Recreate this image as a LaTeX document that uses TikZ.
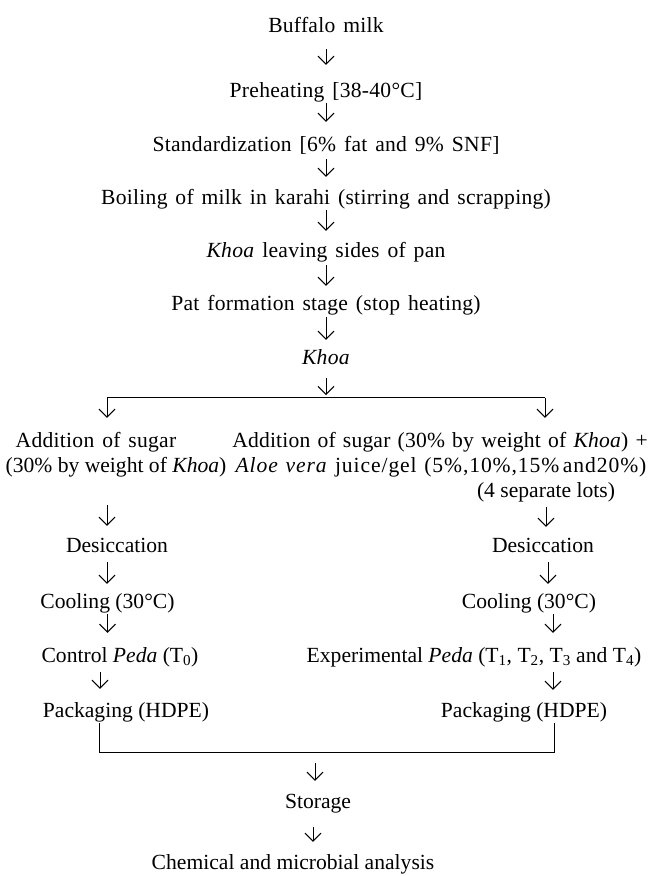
\documentclass[tikz,border=0pt]{standalone}
\usepackage{fontspec}
\setmainfont{Liberation Serif}
\newfontfamily\spacedfont{Liberation Serif}[LetterSpace=1.2,WordSpace=1.4]
\newfontfamily\widefont{Liberation Serif}[LetterSpace=0.8,WordSpace=1.3]
\newfontfamily\widerfont{Liberation Serif}[LetterSpace=4.2,WordSpace=1.2]
\usetikzlibrary{arrows.meta}
\begin{document}
\begin{tikzpicture}[x=1pt,y=-1pt,
  lbl/.style={inner sep=0pt, text height=15pt, text depth=6pt, anchor=base,
    font=\fontsize{21.6}{26}\selectfont},
  topl/.style={lbl, font=\spacedfont\fontsize{21.6}{26}\selectfont},
  arr/.style={-{Straight Barb[length=8pt,width=16pt,line width=1pt]}, line width=1pt,
    shorten <=1pt, shorten >=11pt},
  ln/.style={line width=0.9pt}]
\fill[white] (0,0) rectangle (652,876);
\useasboundingbox (0,0) rectangle (652,876);

% main column
\node[topl] (n1) at (326,32) {Buffalo milk};
\node[topl] (n2) at (326,97) {Preheating [38-40°C]};
\node[topl] (n3) at (326,151) {Standardization [6\% fat and 9\% SNF]};
\node[topl] (n4) at (326,204) {Boiling of milk in karahi (stirring and scrapping)};
\node[topl] (n5) at (326,257) {\textit{Khoa} leaving sides of pan};
\node[topl] (n6) at (326,310) {Pat formation stage (stop heating)};
\node[topl] (n7) at (326,364) {\textit{Khoa}};

\draw[arr, shorten <=11pt, shorten >=17pt] (n1.south) -- (n2.north);
\draw[arr, shorten <=0pt, shorten >=14pt] (n2.south) -- (n3.north);
\draw[arr, shorten <=2pt, shorten >=12pt] (n3.south) -- (n4.north);
\draw[arr, shorten <=0pt, shorten >=11pt] (n4.south) -- (n5.north);
\draw[arr, shorten <=2pt, shorten >=9pt] (n5.south) -- (n6.north);
\draw[arr, shorten <=1pt, shorten >=9pt] (n6.south) -- (n7.north);

% branch
\coordinate (bc) at (326,397);
\coordinate (bl) at (107,397);
\coordinate (brt) at (545,397);
\draw[ln] (bl) -- (brt);
\draw[arr, shorten <=8pt, shorten >=2pt] (n7.south) -- (bc);

% branch texts
\node[topl] (l1) at (96,447) {Addition of sugar};
\node[lbl] (l2) at (116,472) {(30\% by weight of \textit{Khoa})};
\node[lbl, font=\widefont\fontsize{21.6}{26}\selectfont] (r1) at (440,447) {Addition of sugar (30\% by weight of \textit{Khoa}) +};
\node[lbl, font=\widerfont\fontsize{21.6}{26}\selectfont] (r2) at (441,472) {\textit{Aloe vera} juice/gel (5\%,10\%,15\%\,and20\%)};
\node[lbl] (r3) at (546,497) {(4 separate lots)};
\draw[arr, shorten <=0.5pt, shorten >=14pt] (bl) -- (bl |- l1.north);
\draw[arr, shorten <=0.5pt, shorten >=14pt] (brt) -- (brt |- r1.north);

% desiccation
\node[lbl] (ld) at (117,552) {Desiccation};
\node[lbl] (rd) at (543,552) {Desiccation};
\draw[arr, shorten <=27pt, shorten >=11pt] (l2.south -| bl) -- (bl |- ld.north);
\draw[arr, shorten <=4pt, shorten >=10pt] (r3.south) -- (r3.south |- rd.north);

% cooling
\node[lbl] (lc) at (107.5,608) {Cooling (30°C)};
\node[lbl] (rc) at (529,608) {Cooling (30°C)};
\draw[arr, shorten <=4pt, shorten >=9pt] (ld.south -| bl) -- (bl |- lc.north);
\draw[arr, shorten <=4pt, shorten >=9pt] ([xshift=5pt]rd.south) -- ([xshift=5pt]rd.south |- rc.north);

% peda
\node[lbl] (lp) at (120,662) {Control \textit{Peda} (T\textsubscript{0})};
\node[lbl] (rp) at (474,662) {Experimental \textit{Peda} (T\textsubscript{1}, T\textsubscript{2}, T\textsubscript{3} and T\textsubscript{4})};
\draw[arr, shorten <=0pt, shorten >=14pt] (lc.south) -- (lc.south |- lp.north);
\draw[arr, shorten <=0pt, shorten >=14pt] ([xshift=24pt]rc.south) -- ([xshift=24pt]rc.south |- rp.north);

% packaging
\node[lbl] (lk) at (126,717) {Packaging (HDPE)};
\node[lbl] (rk) at (524,717) {Packaging (HDPE)};
\draw[arr, shorten <=4pt, shorten >=13pt] ([xshift=-20pt]lp.south) -- ([xshift=-20pt]lp.south |- lk.north);
\draw[arr, shorten <=4pt, shorten >=12pt] ([xshift=79pt]rp.south) -- ([xshift=79pt]rp.south |- rk.north);

% merge bracket
\coordinate (kl) at (99,752);
\coordinate (kr) at (554,752);
\coordinate (km) at (315,752);
\draw[ln] (kl |- lk.south) -- (kl) -- (kr) -- (kr |- rk.south);

% storage and analysis
\node[lbl] (st) at (318,808) {Storage};
\node[lbl] (ch) at (293,869) {Chemical and microbial analysis};
\draw[arr, shorten <=11pt, shorten >=12pt] (km) -- (km |- st.north);
\draw[arr, shorten <=13pt, shorten >=12pt] ([xshift=-5pt]st.south) -- ([xshift=-5pt]st.south |- ch.north);
\end{tikzpicture}
\end{document}
